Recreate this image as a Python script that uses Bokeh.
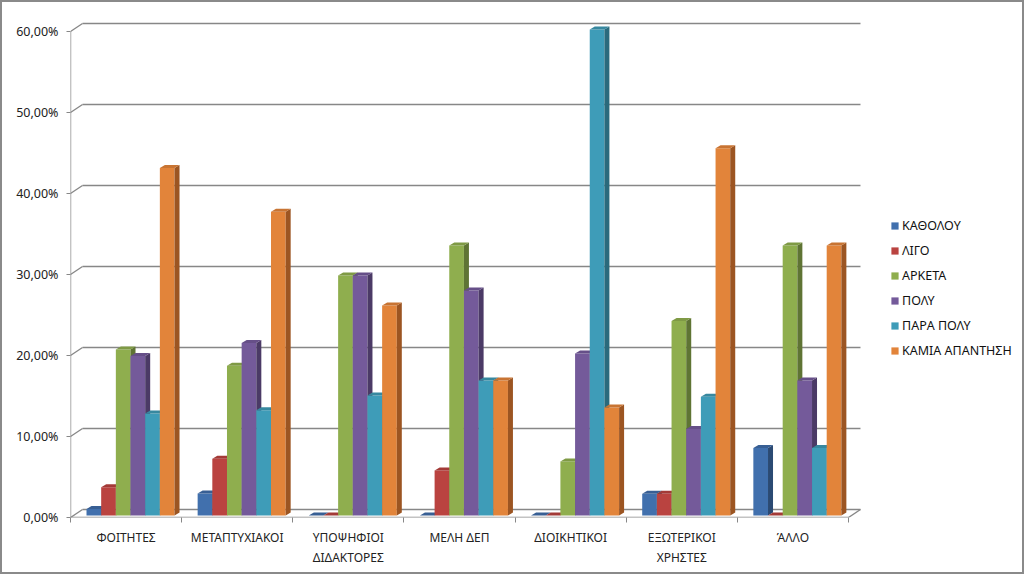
from bokeh.plotting import figure
from bokeh.models import Range1d, FixedTicker, Legend, LegendItem, ColumnDataSource
from bokeh.embed import file_html
from bokeh.resources import INLINE

categories = ["ΦΟΙΤΗΤΕΣ", "ΜΕΤΑΠΤΥΧΙΑΚΟΙ", "ΥΠΟΨΗΦΙΟΙ\nΔΙΔΑΚΤΟΡΕΣ", "ΜΕΛΗ ΔΕΠ",
              "ΔΙΟΙΚΗΤΙΚΟΙ", "ΕΞΩΤΕΡΙΚΟΙ\nΧΡΗΣΤΕΣ", "ΆΛΛΟ"]
series_names = ["ΚΑΘΟΛΟΥ", "ΛΙΓΟ", "ΑΡΚΕΤΑ", "ΠΟΛΥ", "ΠΑΡΑ ΠΟΛΥ", "ΚΑΜΙΑ ΑΠΑΝΤΗΣΗ"]
katholou = [0.8, 2.7, 0.0, 0.0, 0.0, 2.67, 8.33]
ligo = [3.5, 7.0, 0.0, 5.56, 0.0, 2.67, 0.0]
arketa = [20.5, 18.5, 29.63, 33.33, 6.67, 24.0, 33.33]
poly = [19.7, 21.3, 29.63, 27.78, 20.0, 10.67, 16.67]
para_poly = [12.6, 13.0, 14.81, 16.67, 60.0, 14.67, 8.33]
kamia = [42.9, 37.5, 25.93, 16.67, 13.33, 45.33, 33.33]
y_ticks = [0, 10, 20, 30, 40, 50, 60]
y_tick_labels = ["0,00%", "10,00%", "20,00%", "30,00%", "40,00%", "50,00%", "60,00%"]

series_values = [katholou, ligo, arketa, poly, para_poly, kamia]
front_colors = ["#4170AD", "#BA4340", "#8FAE4E", "#745A9A", "#3E9CB8", "#E2843A"]
side_colors = ["#2B4A73", "#7D2B29", "#5F7434", "#4B3A66", "#2A6A7C", "#9C5522"]
top_colors = ["#385F94", "#A33A37", "#7F9A45", "#664F88", "#37889F", "#C87433"]

FONT = "Noto Sans"
n_cat = len(categories)
px_per_x = 111.14
W, H = 1024, 574
frame_w = W - 68 - 6
wall_dx = 0.108   # depth offset of back wall (x units)
wall_dy = 0.99    # depth offset of back wall (y units)
bar_w = 0.132
group_off = 0.54
base = 0.25
dx = 0.045
dy = 0.37
grid_col = "#878787"

p = figure(width=W, height=H, output_backend="svg", toolbar_location=None,
           x_range=Range1d(0, frame_w / px_per_x), y_range=Range1d(0, 496 / 8.1),
           min_border_left=68, min_border_right=6, min_border_top=19, min_border_bottom=59)
p.styles = {"border": "2px solid #8a8a8a"}
p.outline_line_color = None
p.xgrid.visible = False
p.ygrid.visible = False
p.background_fill_color = "white"
p.border_fill_color = "white"

# back wall gridlines and left-wall diagonals
gx0, gx1, gy, dgx0, dgx1, dgy0, dgy1 = [], [], [], [], [], [], []
for t in y_ticks:
    gx0.append(wall_dx); gx1.append(n_cat + wall_dx); gy.append(t + wall_dy)
    dgx0.append(0); dgx1.append(wall_dx); dgy0.append(t); dgy1.append(t + wall_dy)
p.segment(x0=gx0, y0=gy, x1=gx1, y1=gy, line_color=grid_col, line_width=1.4)
p.segment(x0=dgx0, y0=dgy0, x1=dgx1, y1=dgy1, line_color=grid_col, line_width=1.4)
# front axis line, floor front edge, floor right edge
p.segment(x0=[0, 0, n_cat], y0=[0, 0, 0], x1=[0, n_cat, n_cat + wall_dx],
          y1=[y_ticks[-1], 0, wall_dy], line_color=grid_col, line_width=1.4)

legend_items = []
for j, vals in enumerate(series_values):
    centers = [i + group_off + (j - 2.5) * bar_w for i in range(n_cat)]
    tops = [base + v for v in vals]
    src = ColumnDataSource(dict(x=centers, top=tops, bottom=[base] * n_cat))
    front = p.vbar(x="x", top="top", bottom="bottom", width=bar_w, source=src,
                   fill_color=front_colors[j], line_color=None)
    side_xs, side_ys, top_xs, top_ys = [], [], [], []
    for c, v in zip(centers, vals):
        xl, xr = c - bar_w / 2, c + bar_w / 2
        side_xs.append([xr, xr + dx, xr + dx, xr])
        side_ys.append([base, base + dy, base + v + dy, base + v])
        top_xs.append([xl, xr, xr + dx, xl + dx])
        top_ys.append([base + v, base + v, base + v + dy, base + v + dy])
    p.patches(xs=side_xs, ys=side_ys, fill_color=side_colors[j], line_color=None)
    p.patches(xs=top_xs, ys=top_ys, fill_color=top_colors[j], line_color=None)
    legend_items.append(LegendItem(label=series_names[j], renderers=[front]))

# y axis
p.yaxis.ticker = FixedTicker(ticks=y_ticks)
p.yaxis.major_label_overrides = {t: l for t, l in zip(y_ticks, y_tick_labels)}
p.yaxis.axis_line_color = None
p.yaxis.major_tick_line_color = grid_col
p.yaxis.major_tick_out = 4
p.yaxis.major_tick_in = 0
p.yaxis.minor_tick_line_color = None
p.yaxis.major_label_standoff = 8
p.yaxis.major_label_text_font = FONT
p.yaxis.major_label_text_font_size = "12.5px"
p.yaxis.major_label_text_color = "#222222"

# x axis
cat_centers = [i + 0.5 for i in range(n_cat)]
p.xaxis.ticker = FixedTicker(ticks=cat_centers, minor_ticks=list(range(n_cat + 1)))
p.xaxis.major_label_overrides = {c: l for c, l in zip(cat_centers, categories)}
p.xaxis.axis_line_color = None
p.xaxis.major_tick_line_color = None
p.xaxis.minor_tick_line_color = grid_col
p.xaxis.minor_tick_out = 5
p.xaxis.minor_tick_in = 0
p.xaxis.major_label_standoff = 5
p.xaxis.major_label_text_font = FONT
p.xaxis.major_label_text_font_size = "12px"
p.xaxis.major_label_text_color = "#222222"

legend = Legend(items=legend_items, location=(820, 157), orientation="vertical")
legend.label_text_font = FONT
legend.label_text_font_size = "12.5px"
legend.label_text_color = "#111111"
legend.glyph_width = 9
legend.glyph_height = 9
legend.label_height = 20
legend.spacing = 5
legend.padding = 0
legend.margin = 0
legend.label_standoff = 3
legend.border_line_color = None
legend.background_fill_alpha = 0
p.add_layout(legend)

open("out.html", "w").write(file_html(p, INLINE))
